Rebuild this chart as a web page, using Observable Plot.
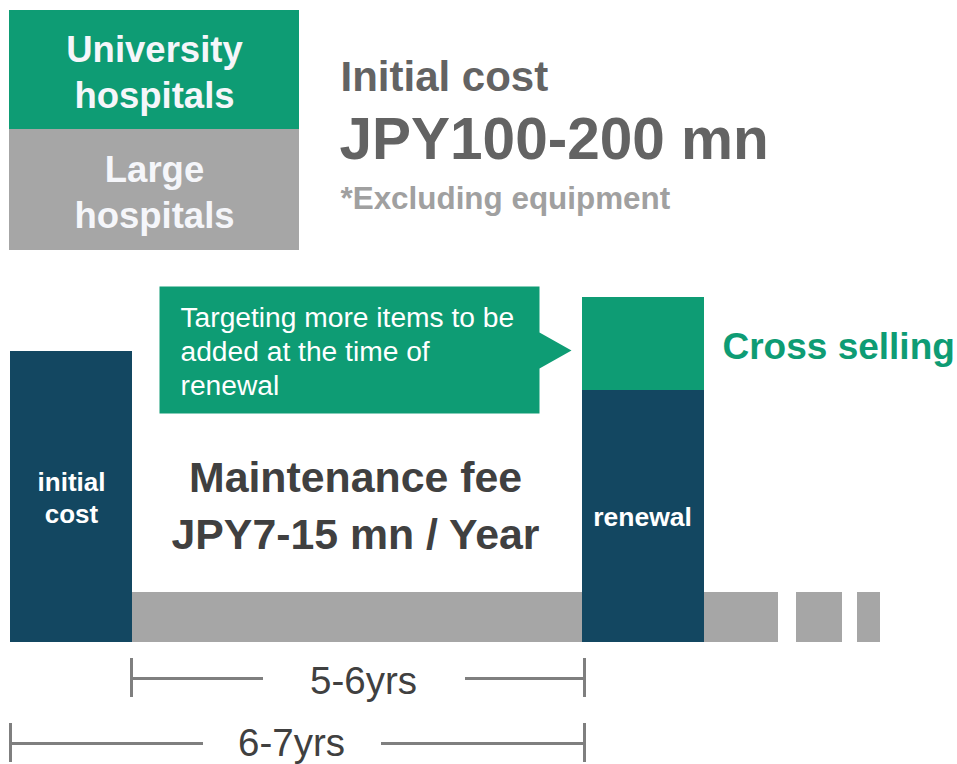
<!DOCTYPE html>
<html><head><meta charset="utf-8">
<script src="https://cdn.jsdelivr.net/npm/d3@7"></script>
<script src="https://cdn.jsdelivr.net/npm/@observablehq/plot@0.6"></script>
<style>html,body{margin:0;padding:0;background:#fff}#chart svg{display:block}</style>
</head><body><div id="chart"></div>
<script>
// ---- data (diagram units) ----
const hospitalTypes   = ["University\nhospitals", "Large\nhospitals"];
const hospitalTop     = [10, 129];
const hospitalBottom  = [129, 250];
const hospitalKind    = ["green", "grey"];

const segments   = ["initial cost", "maintenance", "renewal", "cross selling", "after renewal", "continued 1", "continued 2"];
const segStart   = [10, 132, 582, 582, 704, 796, 857];
const segEnd     = [132, 582, 704, 704, 778, 842, 880];
const segTop     = [351, 592, 390, 297, 592, 592, 592];
const segBottom  = [642, 642, 642, 390, 642, 642, 642];
const segKind    = ["navy", "grey", "navy", "green", "grey", "grey", "grey"];

const calloutX = [159, 539, 539, 571, 539, 539, 159, 159];
const calloutY = [286, 286, 332, 350, 368, 413, 413, 286];

const spans      = ["5-6yrs", "6-7yrs"];
const spanStart  = [131, 10];
const spanEnd    = [584, 584];
const spanLevel  = [678, 743];
const spanGapL   = [263, 203];
const spanGapR   = [465, 381];
const spanBase   = [693, 755];

const colors = {green: "#0e9c74", grey: "#a6a6a6", navy: "#134761"};
const FONT = "Liberation Sans, Arial, Helvetica, sans-serif";

const boxes = hospitalTypes.map((t, i) => ({t, y1: hospitalTop[i], y2: hospitalBottom[i], kind: hospitalKind[i]}));
const segs = segments.map((s, i) => ({s, x1: segStart[i], x2: segEnd[i], y1: segTop[i], y2: segBottom[i], kind: segKind[i]}));
const callout = calloutX.map((x, i) => ({x, y: calloutY[i]}));
const dimLines = spans.flatMap((s, i) => [
  {x1: spanStart[i], x2: spanGapL[i], y: spanLevel[i]},
  {x1: spanGapR[i], x2: spanEnd[i], y: spanLevel[i]}
]);
const dimTicks = spans.flatMap((s, i) => [
  {x: spanStart[i], y1: spanLevel[i] - 20, y2: spanLevel[i] + 19},
  {x: spanEnd[i], y1: spanLevel[i] - 20, y2: spanLevel[i] + 19}
]);
const spanLabels = spans.map((s, i) => ({s, x: (spanGapL[i] + spanGapR[i]) / 2 - 1, y: spanBase[i]}));

const texts = [
  {t: hospitalTypes[0], x: 154, y: 107, size: 36.5, weight: "bold", fill: "#f5f6fa", anchor: "middle", lh: 1.24},
  {t: hospitalTypes[1], x: 154, y: 227, size: 36.5, weight: "bold", fill: "#f5f6fa", anchor: "middle", lh: 1.24},
  {t: "Initial cost", x: 340, y: 90, size: 42, weight: "bold", fill: "#636363", anchor: "start", lh: 1},
  {t: "JPY100-200 mn", x: 339, y: 158, size: 58.5, weight: "bold", fill: "#636363", anchor: "start", lh: 1},
  {t: "*Excluding equipment", x: 340, y: 208, size: 31.4, weight: "bold", fill: "#a0a0a0", anchor: "start", lh: 1},
  {t: "initial\ncost", x: 71, y: 522, size: 26, weight: "bold", fill: "#ffffff", anchor: "middle", lh: 1.2},
  {t: "renewal", x: 642, y: 525, size: 26.5, weight: "bold", fill: "#ffffff", anchor: "middle", lh: 1},
  {t: "Cross selling", x: 722, y: 358, size: 37, weight: "bold", fill: "#0e9c74", anchor: "start", lh: 1},
  {t: "Targeting more items to be\nadded at the time of\nrenewal", x: 180, y: 394, size: 28.2, weight: "normal", fill: "#ffffff", anchor: "start", lh: 1.19},
  {t: "Maintenance fee\nJPY7-15 mn / Year", x: 355, y: 548, size: 42.8, weight: "bold", fill: "#404040", anchor: "middle", lh: 1.33},
  ...spanLabels.map(d => ({t: d.s, x: d.x, y: d.y, size: 38.5, weight: "normal", fill: "#404040", anchor: "middle", lh: 1}))
];

const textMarks = texts.map(d => Plot.text([d], {
  x: "x", y: "y", text: "t", fontSize: d.size, fontWeight: d.weight, fill: d.fill,
  textAnchor: d.anchor, lineAnchor: "bottom", lineHeight: d.lh, fontFamily: FONT
}));

const chart = Plot.plot({
  width: 957, height: 764, margin: 0,
  x: {domain: [0, 957], range: [0, 957], axis: null},
  y: {domain: [0, 764], range: [0, 764], axis: null},
  style: {background: "#fff", fontFamily: FONT},
  marks: [
    Plot.rect(boxes, {x1: () => 9, x2: () => 299, y1: "y1", y2: "y2", fill: d => colors[d.kind]}),
    Plot.rect(segs, {x1: "x1", x2: "x2", y1: "y1", y2: "y2", fill: d => colors[d.kind]}),
    Plot.line(callout, {x: "x", y: "y", fill: "#0e9c74", stroke: "none", curve: "linear"}),
    Plot.ruleY(dimLines, {x1: "x1", x2: "x2", y: "y", stroke: "#7f7f7f", strokeWidth: 3}),
    Plot.ruleX(dimTicks, {x: "x", y1: "y1", y2: "y2", stroke: "#7f7f7f", strokeWidth: 3}),
    ...textMarks
  ],
  color: {type: "identity"}
});
document.getElementById("chart").append(chart);
</script>
</body></html>
